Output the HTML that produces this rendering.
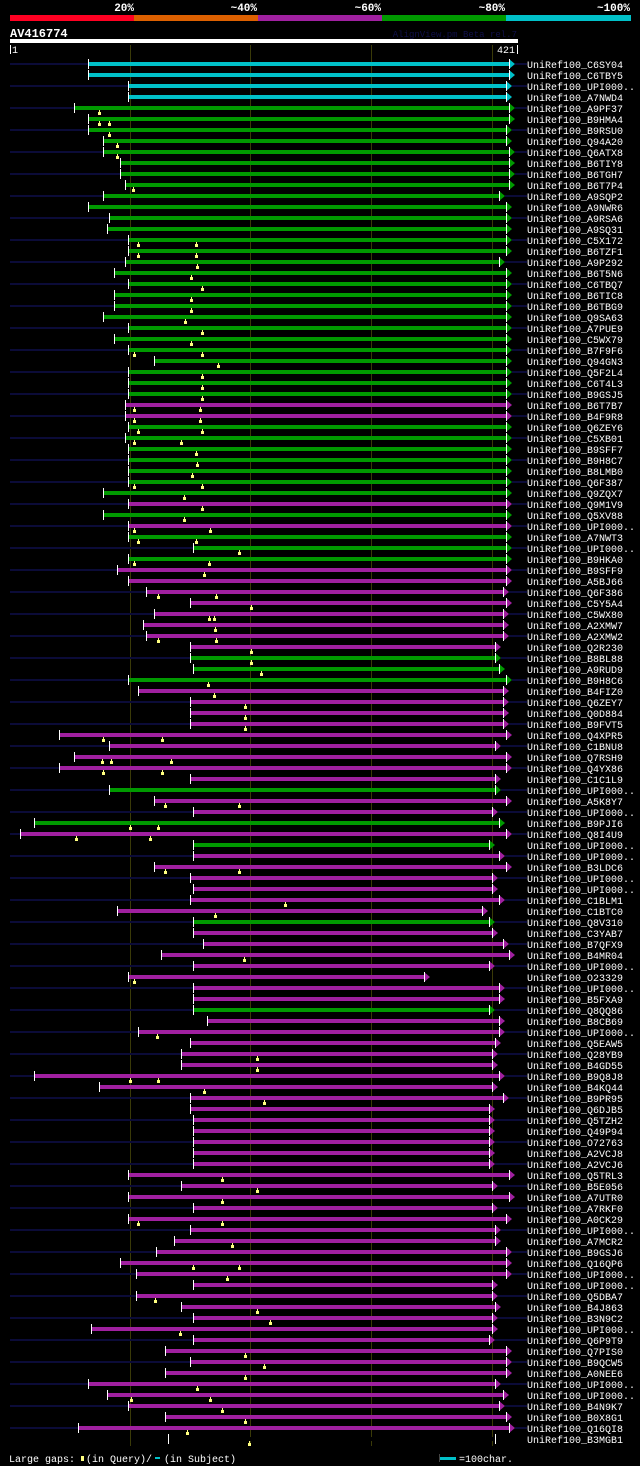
<!DOCTYPE html>
<html><head><meta charset="utf-8">
<style>
html,body{margin:0;padding:0;background:#000;width:640px;height:1466px;overflow:hidden}
svg{display:block}
text{font-family:"Liberation Mono","DejaVu Sans Mono",monospace}
</style></head>
<body>
<svg id="chart" width="640" height="1466" viewBox="0 0 640 1466" xmlns="http://www.w3.org/2000/svg">
<rect x="0" y="0" width="640" height="1466" fill="#000"/>
<g>
<rect x="10" y="15" width="124" height="6" fill="#ff0022"/>
<rect x="134" y="15" width="124" height="6" fill="#dd6000"/>
<rect x="258" y="15" width="124" height="6" fill="#a020a0"/>
<rect x="382" y="15" width="124" height="6" fill="#009900"/>
<rect x="506" y="15" width="125" height="6" fill="#00c0c8"/>
<g fill="#fff" font-size="11" font-weight="bold" text-anchor="end">
<text x="134" y="11">20%</text>
<text x="257" y="11">~40%</text>
<text x="381" y="11">~60%</text>
<text x="505" y="11">~80%</text>
<text x="630" y="11">~100%</text>
</g>
</g>
<text x="10" y="37" fill="#fff" font-size="12" font-weight="bold">AV416774</text>
<text x="517" y="37" fill="#10104a" font-size="9" text-anchor="end">AlignView.pm Beta rel.7</text>
<rect x="10" y="39" width="508" height="4" fill="#fff"/>
<rect x="10" y="45" width="1" height="9" fill="#fff"/>
<text x="12" y="53" fill="#fff" font-size="10">1</text>
<rect x="517" y="45" width="1" height="9" fill="#fff"/>
<text x="515" y="53" fill="#fff" font-size="10" text-anchor="end">421</text>
<g id="grid"></g>
<g id="rows"></g>
<g>
<text x="9" y="1462" fill="#fff" font-size="10">Large gaps:</text>
<rect x="81" y="1456" width="3" height="5" fill="#ffff80"/>
<text x="86" y="1462" fill="#fff" font-size="10">(in Query)/</text>
<rect x="155" y="1457" width="5" height="2" fill="#00c0c8"/>
<text x="164" y="1462" fill="#fff" font-size="10">(in Subject)</text>
<rect x="439" y="1454" width="1" height="8" fill="#444"/>
<rect x="440" y="1457" width="16" height="3" fill="#00c0c8"/>
<text x="459" y="1462" fill="#fff" font-size="10">=100char.</text>
</g>
</svg>
<script>
const names = ["C6SY04","C6TBY5","UPI000..","A7NWD4","A9PF37","B9HMA4","B9RSU0","Q94A20","Q6ATX8","B6TIY8","B6TGH7","B6T7P4","A9SQP2","A9NWR6","A9RSA6","A9SQ31","C5X172","B6TZF1","A9P292","B6T5N6","C6TBQ7","B6TIC8","B6TBG9","Q9SA63","A7PUE9","C5WX79","B7F9F6","Q94GN3","Q5F2L4","C6T4L3","B9GSJ5","B6T7B7","B4F9R8","Q6ZEY6","C5XB01","B9SFF7","B9H8C7","B8LMB0","Q6F387","Q9ZQX7","Q9M1V9","Q5XV88","UPI000..","A7NWT3","UPI000..","B9HKA0","B9SFF9","A5BJ66","Q6F386","C5Y5A4","C5WX80","A2XMW7","A2XMW2","Q2R230","B8BL88","A9RUD9","B9H8C6","B4FIZ0","Q6ZEY7","Q0D884","B9FVT5","Q4XPR5","C1BNU8","Q7RSH9","Q4YX86","C1C1L9","UPI000..","A5K8Y7","UPI000..","B9PJI6","Q8I4U9","UPI000..","UPI000..","B3LDC6","UPI000..","UPI000..","C1BLM1","C1BTC0","Q8V310","C3YAB7","B7QFX9","B4MR04","UPI000..","O23329","UPI000..","B5FXA9","Q8QQ86","B8CB69","UPI000..","Q5EAW5","Q28YB9","B4GD55","B9Q8J8","B4KQ44","B9PR95","Q6DJB5","Q5TZH2","Q49P94","O72763","A2VCJ8","A2VCJ6","Q5TRL3","B5E056","A7UTR0","A7RKF0","A0CK29","UPI000..","A7MCR2","B9GSJ6","Q16QP6","UPI000..","UPI000..","Q5DBA7","B4J863","B3N9C2","UPI000..","Q6P9T9","Q7PIS0","B9QCW5","A0NEE6","UPI000..","UPI000..","B4N9K7","B0X8G1","Q16QI8","B3MGB1"];
const scoreClass = "ccccgggggggggggggggggggggggggggmmgggggggmgmgggmmmmmmmmgggmmmmmmmmmgmmgmgmmmmmmgmmmmmmmgmmmmmmmmmmmmmmmmmmmmmmmmmmmmmmmmmmmmmm";
const starts = [66,66,99,99,54,66,66,78,78,92,92,96,78,66,83,81,99,99,96,87,99,87,87,78,99,87,99,120,99,99,99,96,96,99,96,99,99,99,99,78,99,78,99,99,153,99,90,99,114,150,120,111,114,150,150,153,99,107,150,150,150,42,83,54,42,150,83,120,153,21,9,153,153,120,150,153,150,90,153,153,161,126,153,99,153,153,153,164,107,150,143,143,21,75,150,150,153,153,153,153,153,99,143,99,153,99,150,137,122,92,105,153,105,143,153,68,153,129,150,129,66,81,99,129,57,132];
const ends = [414,414,412,412,414,414,412,412,414,414,414,414,406,412,412,412,412,412,406,412,412,412,412,412,412,412,412,412,412,412,412,412,412,412,412,412,412,412,412,412,412,412,412,412,412,412,412,412,409,412,409,409,409,403,403,406,412,409,409,409,409,412,403,412,412,403,403,412,400,406,412,398,406,412,400,400,406,392,398,400,409,414,398,344,406,406,398,406,406,403,400,400,406,400,409,398,398,398,398,398,398,414,400,414,400,412,403,403,412,412,412,400,400,403,400,400,398,412,412,412,403,409,406,412,414,403];
const gaps = [[],[],[],[],[75],[75,83],[83],[90],[90],[],[],[103],[],[],[],[],[107,155],[107,155],[156],[151],[160],[151],[151],[146],[160],[151],[104,160],[173],[160],[160],[160],[104,158],[104,158],[107,160],[104,143],[155],[156],[152],[104,160],[145],[160],[145],[104,167],[107,155],[191],[104,166],[162],[],[124,172],[201],[166,170],[171],[124,172],[201],[201],[209],[165],[170],[196],[196],[196],[78,127],[],[77,85,134],[78,127],[],[],[129,191],[],[100,124],[56,117],[],[],[129,191],[],[],[229],[171],[],[],[],[195],[],[104],[],[],[],[],[123],[],[206],[206],[100,124],[162],[211],[],[],[],[],[],[],[177],[206],[177],[],[107,177],[],[185],[],[153,191],[181],[],[121],[206],[216],[142],[],[196],[211],[196],[156],[101,167],[177],[196],[148],[199]];
const gridTicks = [100,200,300,400];
const QLEN = 421;

const NS = "http://www.w3.org/2000/svg";
const X0 = 10, X1 = 517, ROW0 = 64, ROWH = 11, LABELX = 527;
const COLORS = {c:"#00c0c8", g:"#009900", m:"#a020a0"};
function xScale(r){ return X0 + (r - 1) * (X1 - X0) / (QLEN - 1); }
function yScale(i){ return ROW0 + i * ROWH; }
function mk(tag, attrs, parent){
  const el = document.createElementNS(NS, tag);
  for (const k in attrs) el.setAttribute(k, attrs[k]);
  parent.appendChild(el);
  return el;
}
const grid = document.getElementById("grid");
gridTicks.forEach(t => {
  const gx = Math.round(xScale(t)) + 0.5;
  const ln = mk("line", {x1:gx, x2:gx, y1:45, y2:1446, stroke:"#3a3a08", "stroke-width":1}, grid);
  
  
});
const rows = document.getElementById("rows");
names.forEach((nm, i) => {
  const y = yScale(i);
  const col = COLORS[scoreClass[i]];
  const sx = Math.round(xScale(starts[i]));
  const ex = Math.round(xScale(ends[i]));
  const g = mk("g", {}, rows);
  
  
  if (i % 2 === 0) {
    const l = mk("rect", {x:X0, y:y-1, width:sx - X0, height:2, fill:"#0b0b38"}, g);
    
    
    const r = mk("rect", {x:ex + 6, y:y-1, width:LABELX - ex - 6, height:2, fill:"#0b0b38"}, g);
    
    
  }
  const bar = mk("rect", {x:sx, y:y-2, width:ex - sx, height:4, fill:col}, g);
  
  
  const tick = mk("rect", {x:sx, y:y-5, width:1, height:10, fill:"#fff"}, g);
  
  
  const arr = mk("polygon", {points:(ex)+","+(y-5)+" "+(ex+6)+","+y+" "+(ex)+","+(y+5), fill:col}, g);
  
  
  const et = mk("rect", {x:ex, y:y-5, width:1, height:10, fill:"#fff"}, g);
  
  
  gaps[i].forEach(gp => {
    const gx = Math.round(xScale(gp));
    const m = mk("rect", {x:gx - 1, y:y + 4, width:3, height:3, fill:"#ffff80"}, g);
    
    
    const s = mk("rect", {x:gx, y:y + 2, width:1, height:2, fill:"#ffff80"}, g);
    
    
  });
  const t = mk("text", {x:LABELX, y:y + 4, fill:"#fff", "font-size":10}, g);
  t.textContent = "UniRef100_" + nm;
  
  
});
</script>
</body></html>
